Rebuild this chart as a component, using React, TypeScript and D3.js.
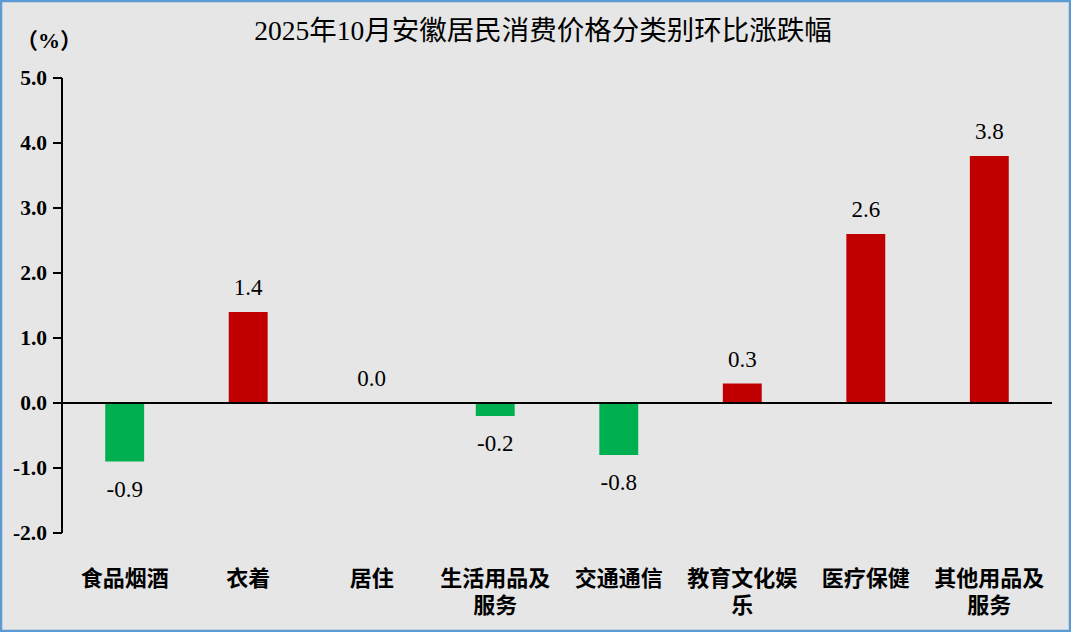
import React from "react";
import * as d3 from "d3";

const categories: string[][] = [
  ["食品烟酒"],
  ["衣着"],
  ["居住"],
  ["生活用品及", "服务"],
  ["交通通信"],
  ["教育文化娱", "乐"],
  ["医疗保健"],
  ["其他用品及", "服务"],
];
const values: number[] = [-0.9, 1.4, 0.0, -0.2, -0.8, 0.3, 2.6, 3.8];
const yTicks: number[] = [5, 4, 3, 2, 1, 0, -1, -2];
const title = "2025年10月安徽居民消费价格分类别环比涨跌幅";
const unit = "（%）";

const W = 1071;
const H = 632;
const FONT = "'Liberation Serif', 'Times New Roman', 'Noto Sans CJK SC', serif";

export default function App() {
  const left = 62;
  const right = 1052;
  const y = d3.scaleLinear().domain([-2, 5]).range([533, 78]);
  const x = d3
    .scaleBand<number>()
    .domain(values.map((_, i) => i))
    .range([left, right])
    .paddingInner(0.685)
    .paddingOuter(0.35);
  const bw = x.bandwidth();
  return (
    <svg
      width={W}
      height={H}
      style={{ position: "absolute", left: 0, top: 0, display: "block" }}
      fontFamily={FONT}
    >
      <rect x={1} y={1} width={W - 2} height={H - 2} fill="#E6E6E6" stroke="#5B9BD5" strokeWidth={2.5} />
      <text x={543} y={40} textAnchor="middle" fontSize={27.5} fill="#000">
        {title}
      </text>
      <text x={16} y={48} fontSize={22} fontWeight="bold" fill="#000">
        {unit}
      </text>
      {values.map((v, i) => {
        const cx = (x(i) as number) + bw / 2;
        const y0 = y(0);
        const yv = y(v);
        return (
          <g key={i}>
            {v !== 0 && (
              <rect
                x={x(i)}
                y={Math.min(y0, yv)}
                width={bw}
                height={Math.abs(yv - y0)}
                fill={v > 0 ? "#C00000" : "#00B050"}
              />
            )}
            <text
              x={cx}
              y={v >= 0 ? yv - 17 : yv + 35}
              textAnchor="middle"
              fontSize={23}
              fill="#000"
            >
              {v.toFixed(1)}
            </text>
            {categories[i].map((line, j) => (
              <text
                key={j}
                x={cx}
                y={586 + j * 27}
                textAnchor="middle"
                fontSize={22}
                fontWeight="bold"
                fill="#000"
              >
                {line}
              </text>
            ))}
          </g>
        );
      })}
      <line x1={left} x2={left} y1={y(5)} y2={y(-2)} stroke="#000" strokeWidth={2} />
      {yTicks.map((t) => (
        <g key={t}>
          <line x1={left - 9} x2={left} y1={y(t)} y2={y(t)} stroke="#000" strokeWidth={2} />
          <text
            x={47}
            y={y(t) + 7}
            textAnchor="end"
            fontSize={21.5}
            fontWeight="bold"
            fill="#000"
          >
            {t.toFixed(1)}
          </text>
        </g>
      ))}
      <line x1={left} x2={right} y1={y(0)} y2={y(0)} stroke="#000" strokeWidth={2} />
    </svg>
  );
}
